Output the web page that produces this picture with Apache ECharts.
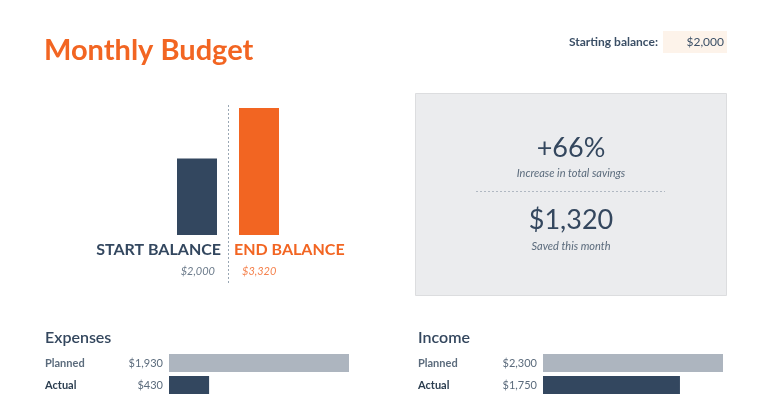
<!DOCTYPE html>
<html>
<head>
<meta charset="utf-8">
<script src="https://cdn.jsdelivr.net/npm/echarts@6/dist/echarts.min.js"></script>
<style>html,body{margin:0;padding:0;background:#fff}#c{width:763px;height:400px}</style>
</head>
<body>
<div id="c"></div>
<script>
const titleText = 'Monthly Budget';
const startingBalance = 2000;
const balanceCategories = ['START BALANCE', 'END BALANCE'];
const balanceValues = [2000, 3320];
const budgetCategories = ['Planned', 'Actual'];
const expenseValues = [1930, 430];
const incomeValues = [2300, 1750];

const NAVY = '#33475f';
const ORANGE = '#f26522';
const GREY_BAR = '#adb5bf';
const FONT = 'Lato';
const fmt = v => '$' + v.toLocaleString('en-US');

const saved = balanceValues[1] - balanceValues[0];
const pct = Math.round(saved / balanceValues[0] * 100);

const chart = echarts.init(document.getElementById('c'));

function budgetYAxis(gridIndex, margin) {
  return {
    type: 'category', gridIndex: gridIndex, inverse: true,
    data: budgetCategories.map((c, i) => ({
      value: c,
      textStyle: { color: i === 0 ? '#5b6b7c' : '#2c3e50', align: 'left', fontFamily: FONT, fontWeight: 'bold', fontSize: 11 }
    })),
    axisLine: { show: false }, axisTick: { show: false },
    axisLabel: { align: 'left', margin: margin, fontFamily: FONT, fontWeight: 'bold', fontSize: 11 }
  };
}
function budgetSeries(idx, values) {
  return {
    type: 'bar', xAxisIndex: idx, yAxisIndex: idx, barWidth: 18,
    data: values.map((v, i) => ({ value: v, itemStyle: { color: i === 0 ? GREY_BAR : NAVY } })),
    label: { show: true, position: 'left', distance: 6, formatter: p => fmt(p.value),
      color: '#5b6b7c', fontFamily: FONT, fontSize: 11 },
    silent: true, animation: false
  };
}

chart.setOption({
  animation: false,
  grid: [
    { left: 166, top: 108, width: 124, height: 127 },
    { left: 169, top: 352, width: 180, height: 44 },
    { left: 543, top: 352, width: 180, height: 44 }
  ],
  xAxis: [
    { type: 'category', gridIndex: 0, data: balanceCategories, show: false },
    { type: 'value', gridIndex: 1, min: 0, max: expenseValues[0], show: false },
    { type: 'value', gridIndex: 2, min: 0, max: incomeValues[0], show: false }
  ],
  yAxis: [
    { type: 'value', gridIndex: 0, min: 0, max: balanceValues[1], show: false },
    budgetYAxis(1, 124),
    budgetYAxis(2, 125)
  ],
  series: [
    { type: 'bar', xAxisIndex: 0, yAxisIndex: 0, barWidth: 40,
      data: balanceValues.map((v, i) => ({ value: v, itemStyle: { color: i === 0 ? NAVY : ORANGE } })),
      silent: true },
    budgetSeries(1, expenseValues),
    budgetSeries(2, incomeValues)
  ],
  graphic: [
    { type: 'text', x: 44, y: 51, style: { text: titleText, fill: ORANGE, font: 'bold 29px ' + FONT, verticalAlign: 'middle' } },
    { type: 'rect', shape: { x: 663, y: 31, width: 64, height: 22 }, style: { fill: '#fdf3ea' }, silent: true },
    { type: 'text', x: 658, y: 42, style: { text: 'Starting balance:', fill: '#3b4f66', font: 'bold 12px ' + FONT, align: 'right', verticalAlign: 'middle' } },
    { type: 'text', x: 724, y: 42, style: { text: fmt(startingBalance), fill: '#3b4f66', font: '12px ' + FONT, align: 'right', verticalAlign: 'middle' } },
    { type: 'line', shape: { x1: 228.5, y1: 105, x2: 228.5, y2: 284 }, style: { stroke: '#9aa7b4', lineWidth: 1, lineDash: [2, 2] }, silent: true },
    { type: 'text', x: 221, y: 250, style: { text: balanceCategories[0], fill: NAVY, font: 'bold 16px ' + FONT, align: 'right', verticalAlign: 'middle' } },
    { type: 'text', x: 234, y: 250, style: { text: balanceCategories[1], fill: ORANGE, font: 'bold 16px ' + FONT, align: 'left', verticalAlign: 'middle' } },
    { type: 'text', x: 215, y: 271, style: { text: fmt(balanceValues[0]), fill: '#6b7a8a', font: 'italic 11px ' + FONT, align: 'right', verticalAlign: 'middle' } },
    { type: 'text', x: 242, y: 271, style: { text: fmt(balanceValues[1]), fill: '#f5834f', font: 'italic 11px ' + FONT, align: 'left', verticalAlign: 'middle' } },
    { type: 'rect', shape: { x: 415.5, y: 93.5, width: 311, height: 202 }, style: { fill: '#ebecee', stroke: '#dcdddf', lineWidth: 1 }, silent: true },
    { type: 'text', x: 571, y: 148, style: { text: '+' + pct + '%', fill: '#34475e', font: '27px ' + FONT, align: 'center', verticalAlign: 'middle' } },
    { type: 'text', x: 571, y: 173, style: { text: 'Increase in total savings', fill: '#5b6b7c', font: 'italic 11px ' + FONT, align: 'center', verticalAlign: 'middle' } },
    { type: 'line', shape: { x1: 476, y1: 191.5, x2: 665, y2: 191.5 }, style: { stroke: '#b0b8c2', lineWidth: 1, lineDash: [2, 2] }, silent: true },
    { type: 'text', x: 571, y: 220, style: { text: fmt(saved), fill: '#34475e', font: '27px ' + FONT, align: 'center', verticalAlign: 'middle' } },
    { type: 'text', x: 571, y: 246, style: { text: 'Saved this month', fill: '#5b6b7c', font: 'italic 11px ' + FONT, align: 'center', verticalAlign: 'middle' } },
    { type: 'text', x: 45, y: 338, style: { text: 'Expenses', fill: '#34475e', font: '600 16px ' + FONT, align: 'left', verticalAlign: 'middle' } },
    { type: 'text', x: 418, y: 338, style: { text: 'Income', fill: '#34475e', font: '600 16px ' + FONT, align: 'left', verticalAlign: 'middle' } }
  ]
});
</script>
</body>
</html>
